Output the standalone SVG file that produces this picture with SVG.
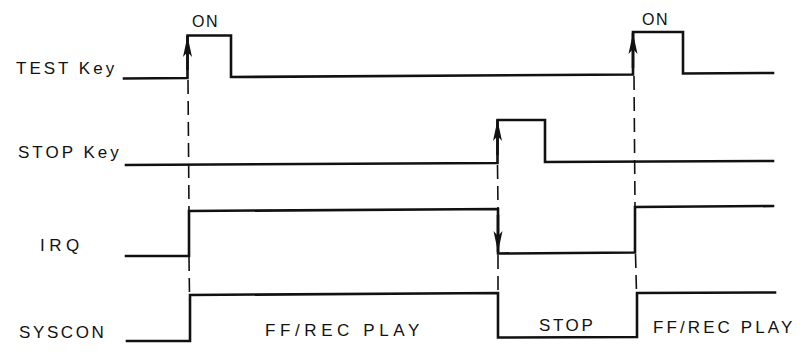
<svg xmlns="http://www.w3.org/2000/svg" width="802" height="358" viewBox="0 0 802 358">
<style>
.sig{fill:none;stroke:#111;stroke-width:2.6;stroke-linejoin:miter;stroke-linecap:square}
.lbl{font-family:"Liberation Sans",Arial,sans-serif;font-size:17px;fill:#111}
.on{font-size:16px}
.dash{fill:none;stroke:#111;stroke-width:1.6;stroke-dasharray:14 7}
.arr{fill:none;stroke:#111;stroke-width:2.6}
</style>
<defs>
<marker id="ah" viewBox="-22 -5 23 10" refX="0" refY="0" markerWidth="23" markerHeight="10" orient="auto" markerUnits="userSpaceOnUse">
<path d="M0,0 L-21,-4.5 L-16,0 L-21,4.5 Z" fill="#111"/>
</marker>
</defs>
<rect width="802" height="358" fill="#fff"/>
<g id="test-key">
<text class="lbl" x="16" y="74" letter-spacing="3">TEST Key</text>
<text class="lbl on" x="192" y="27" letter-spacing="1.5">ON</text>
<text class="lbl on" x="642" y="25" letter-spacing="1.5">ON</text>
<polyline class="sig" points="124,78.5 187.5,78 187.5,35.5 231,35.5 231,77 633,74.5 633,32 683,32 683,73.5 773,73"/>
</g>
<g id="stop-key">
<text class="lbl" x="18" y="158" letter-spacing="3">STOP Key</text>
<polyline class="sig" points="126,165 497.5,163 497.5,120 545,120 545,162 773,161"/>
</g>
<g id="irq">
<text class="lbl" x="40" y="251" letter-spacing="4.5">IRQ</text>
<polyline class="sig" points="126,256 189,256 189,211 498,209 498,253.5 635,252.5 635,207 773,206"/>
</g>
<g id="syscon">
<text class="lbl" x="19" y="338" letter-spacing="2.6">SYSCON</text>
<text class="lbl" x="265" y="336" letter-spacing="4.6">FF/REC PLAY</text>
<text class="lbl" x="539" y="331" letter-spacing="2.6">STOP</text>
<text class="lbl" x="653" y="333" letter-spacing="3.1">FF/REC PLAY</text>
<polyline class="sig" points="127,341 190,341 190,295 498,293 498,337.5 637,337 637,293 775,292.5"/>
</g>
<g id="connectors">
<line class="dash" x1="188" y1="80" x2="189" y2="211"/>
<line class="dash" x1="189" y1="257" x2="189.5" y2="295"/>
<line class="dash" x1="497.5" y1="165" x2="498" y2="209"/>
<line class="dash" x1="498" y1="255" x2="498" y2="293"/>
<line class="dash" x1="634" y1="76" x2="635" y2="207"/>
<line class="dash" x1="635.5" y1="254" x2="636.5" y2="293"/>
<line class="arr" x1="187.5" y1="70" x2="187.5" y2="36" marker-end="url(#ah)"/>
<line class="arr" x1="497.5" y1="155" x2="497.5" y2="120" marker-end="url(#ah)"/>
<line class="arr" x1="633" y1="68" x2="633" y2="33" marker-end="url(#ah)"/>
<line class="arr" x1="498" y1="215" x2="498" y2="252" marker-end="url(#ah)"/>
</g>
</svg>
